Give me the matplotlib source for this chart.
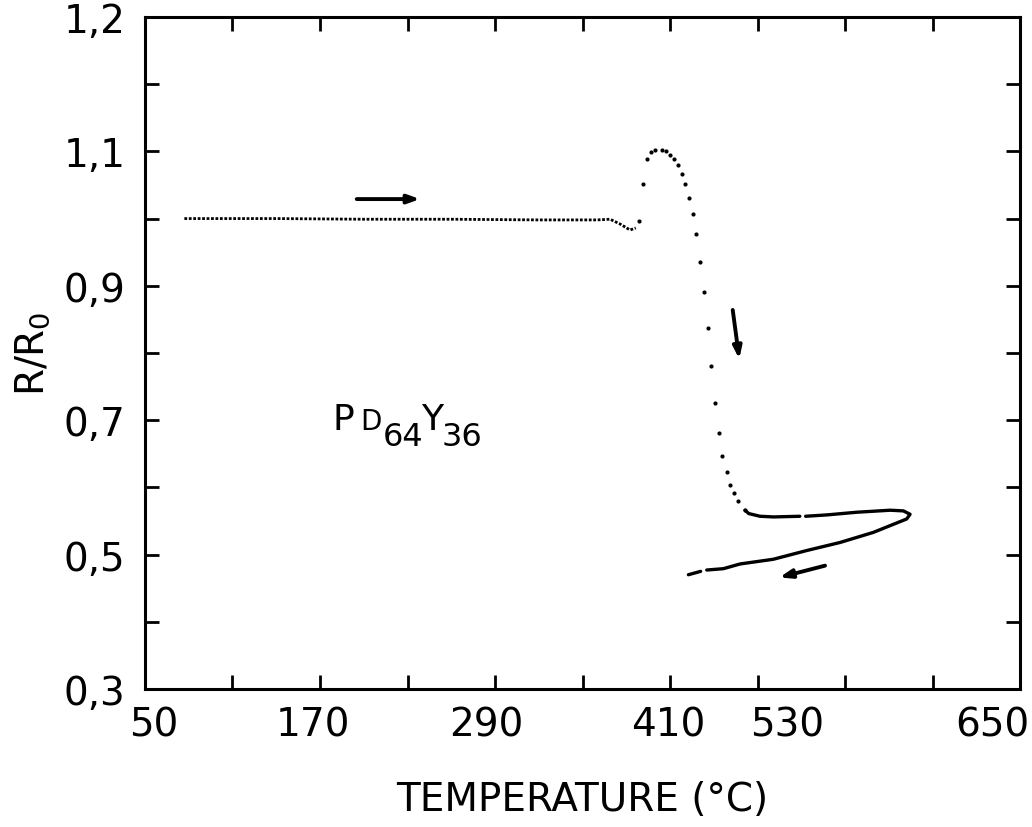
import numpy as np
import matplotlib as mpl
import matplotlib.pyplot as plt

mpl.rcParams['font.family'] = 'DejaVu Sans'
mpl.rcParams['axes.linewidth'] = 2.2

# heating run, continuous plotter trace (flat part + small dip)
flat_T = [77, 140, 200, 260, 320, 360, 368.9, 375.7, 382.6, 386.5]
flat_R = [1.000, 1.000, 0.999, 0.999, 0.998, 0.998, 0.999, 0.992, 0.983, 0.986]

# heating run, separate data points around the crystallisation peak
peak_T = [388.7, 391.7, 394.2, 397.0, 399.7, 404.3, 407.3, 410.0, 412.7, 415.3,
          418.2, 420.5, 422.8, 425.8, 428.0, 430.8, 433.3, 435.9, 438.3, 440.9,
          443.6, 445.9, 448.9, 451.4, 453.9, 456.8, 461.4]
peak_R = [0.996, 1.051, 1.088, 1.099, 1.102, 1.102, 1.100, 1.095, 1.088, 1.079,
          1.066, 1.051, 1.031, 1.007, 0.977, 0.935, 0.890, 0.837, 0.781, 0.725,
          0.681, 0.647, 0.623, 0.604, 0.591, 0.580, 0.566]

# upper branch up to max temperature, then cooling branch back down
# (nan = pen lift visible on the original trace)
loop_T = [461.4, 464.0, 471.7, 481.0, 499.0, np.nan, 503.0, 517.5, 538.0, 561.0,
          570.0, 574.6, 572.3, 549.4, 526.6, 503.7, 480.8, 458.0, 446.6, 435.2,
          np.nan, 431.0, 422.6]
loop_R = [0.566, 0.561, 0.557, 0.556, 0.557, np.nan, 0.557, 0.559, 0.563, 0.566,
          0.565, 0.560, 0.553, 0.533, 0.518, 0.506, 0.493, 0.486, 0.479, 0.477,
          np.nan, 0.475, 0.470]

# direction arrows: (T_start, R_start, T_end, R_end)
arrows = [(195.2, 1.029, 238.6, 1.029),
          (453.0, 0.864, 457.5, 0.791),
          (516.3, 0.4835, 485.0, 0.466)]

# printed tick labels (typed by hand on the original, not quite on the ticks)
xlabels = ['50', '170', '290', '410', '530', '650']
xlabel_pos = [56, 165, 284, 409, 490, 631]
ylabels = ['0,3', '0,5', '0,7', '0,9', '1,1', '1,2']

fig = plt.figure(figsize=(10.32, 8.28), dpi=100)
ax = fig.add_axes([0.1405, 0.1667, 0.8479, 0.8116])

ax.plot(flat_T, flat_R, color='k', lw=2.0, ls=(0, (1, 0.6)))
ax.plot(peak_T, peak_R, 'o', color='k', ms=3, mec='none')
ax.plot(loop_T, loop_R, color='k', lw=2.4, solid_capstyle='round')

for t0, r0, t1, r1 in arrows:
    ax.annotate('', xy=(t1, r1), xytext=(t0, r0),
                arrowprops=dict(arrowstyle='-|>,head_length=0.7,head_width=0.25',
                                color='k', lw=2.8, shrinkA=0, shrinkB=0))

# composition label: P, small D, sub 64, Y, sub 36
ax.text(178.9, 0.687, 'P', fontsize=26, ha='left', va='baseline')
ax.text(197.5, 0.687, 'D', fontsize=20, ha='left', va='baseline')
ax.text(213.0, 0.663, '64', fontsize=23, ha='left', va='baseline')
ax.text(239.5, 0.687, 'Y', fontsize=26, ha='left', va='baseline')
ax.text(253.5, 0.663, '36', fontsize=23, ha='left', va='baseline')

ax.set_xlim(50, 650)
ax.set_ylim(0.3, 1.3)

ax.set_xticks(xlabel_pos, xlabels)
ax.set_xticks(np.arange(50, 651, 60), minor=True)
ax.set_yticks(np.arange(0.3, 1.31, 0.2), ylabels)
ax.set_yticks(np.arange(0.4, 1.25, 0.2), minor=True)

ax.tick_params(axis='x', which='major', length=0, pad=12, labelsize=28)
ax.tick_params(axis='y', which='major', direction='in', length=10, width=2,
               right=True, pad=14, labelsize=28)
ax.tick_params(axis='x', which='minor', direction='in', length=10, width=2,
               top=True)
ax.tick_params(axis='y', which='minor', direction='in', length=10, width=2,
               right=True)

ax.set_xlabel('TEMPERATURE (°C)', fontsize=28, labelpad=26)
ax.set_ylabel(r'R/R$_\mathregular{0}$', fontsize=28, labelpad=8)

fig.savefig('out.png', dpi=100)
